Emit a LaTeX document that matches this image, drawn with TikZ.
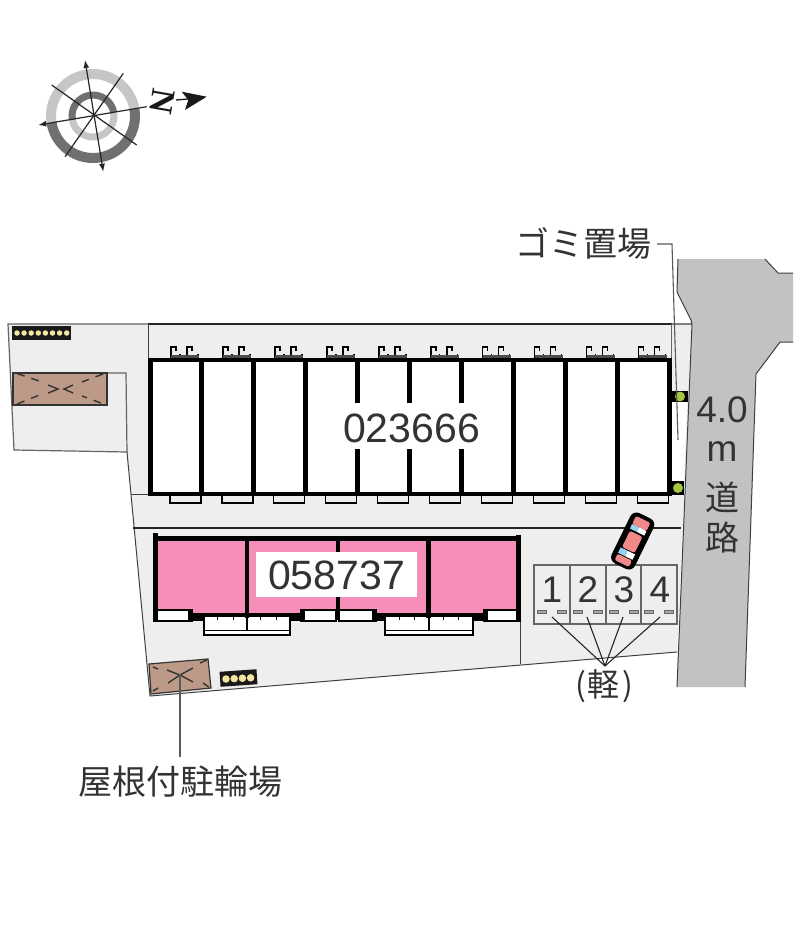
\documentclass[tikz,border=0pt]{standalone}
\usepackage{fontspec}
\setmainfont{Liberation Sans}
\newfontfamily\jpfont{Noto Sans CJK JP}
\newfontfamily\northfont{Liberation Serif}
\usetikzlibrary{arrows.meta}
\definecolor{ground}{HTML}{EEEEEE}
\definecolor{roadgray}{HTML}{C1C2C4}
\definecolor{pinkunit}{HTML}{F58FBA}
\definecolor{shelter}{HTML}{BD9A87}
\definecolor{ringlight}{HTML}{C6C6C6}
\definecolor{ringdark}{HTML}{707070}
\definecolor{rack}{HTML}{F2E6A0}
\definecolor{carred}{HTML}{F08A88}
\definecolor{carglass}{HTML}{96D3F2}
\definecolor{trashgreen}{HTML}{A4C63C}
\tikzset{
  x=1pt,y=-1pt,
  wall/.style={fill=black,draw=none},
  thinline/.style={draw=black!75,line width=1pt},
  bigtext/.style={font=\fontsize{41}{41}\selectfont,inner sep=0pt,text=black!80},
  spotnum/.style={font=\fontsize{37}{37}\selectfont,inner sep=0pt,text=black!80},
  jptext/.style={font=\jpfont\fontsize{34}{34}\selectfont,inner sep=0pt,text=black!80},
  leader/.style={draw=black!65,line width=1.1pt},
  compass/.style={draw=black!85,line width=1.2pt},
  shelterbox/.style={fill=shelter,draw=black!80,line width=1.2pt},
  sheltermark/.style={draw=black!80,line width=1.4pt},
  rackbox/.style={fill=black!90,draw=none},
  rackdot/.style={fill=rack,draw=none,circle,inner sep=0pt,minimum size=5.5pt},
}
\begin{document}
\begin{tikzpicture}
\useasboundingbox (0,0) rectangle (800,940);
\fill[white] (0,0) rectangle (800,940);

% ---- ground
\fill[ground] (8,324) -- (692,324) -- (677,652) -- (150,696) -- (127,452) -- (14,450) -- cycle;
\fill[white] (672,402) -- (687,402) -- (684,481) -- (672,481) -- cycle;
\draw[draw=black!60,line width=1.2pt] (148,324) -- (8,324) -- (14,450) -- (127,452) -- (126,373) -- (107,373);
\draw[thinline] (127,452) -- (150,696) -- (677,652);
\draw[draw=black!85,line width=1.3pt] (148,324) -- (672,324);
\draw[draw=black!50,line width=1.2pt] (672,324) -- (692,324);
\draw[thinline] (148,324) -- (148,360);
\draw[draw=black!60,line width=1pt] (671,324) -- (671,360);
\draw[thinline] (131,494) -- (148,494);
\draw[draw=black!85,line width=1.2pt] (133,528) -- (681,528);
\draw[thinline] (520,535) -- (520,664);

% ---- road
\fill[roadgray] (678,259) -- (765,259) -- (778,273) -- (793,273) -- (793,342) -- (780,342) -- (756,374) -- (745,687) -- (677,687) -- (692,324) -- (691,320) -- (677,292) -- cycle;
\draw[thinline] (678,259) -- (677,292) -- (691,320) -- (692,324) -- (677,687);
\draw[thinline] (793,342) -- (780,342) -- (756,374) -- (745,687);
\draw[thinline] (765,259) -- (778,273) -- (793,273);

% ---- upper building: ten units
\fill[white] (150,360) rectangle (670,494);
\foreach \i in {0,...,9}{
  \pgfmathsetmacro{\xw}{150+\i*51.95}
  \draw[draw=black,line width=1.1pt,fill=ground] (\xw+20,494) rectangle (\xw+51,503);
  \draw[black,line width=1.5pt] (\xw+21,358) -- (\xw+21,347) -- (\xw+26,347) -- (\xw+26,351);
  \draw[black,line width=1.5pt] (\xw+37,358) -- (\xw+37,347) -- (\xw+42,347) -- (\xw+42,351);
  \draw[black,line width=1.4pt] (\xw+30,358) -- (\xw+30,354);
  \draw[black,line width=1.4pt] (\xw+48,358) -- (\xw+48,354);
  \fill[black!70] (\xw+21,355) rectangle (\xw+49,358);
  \fill[wall] (\xw-2.5,360) rectangle (\xw+2.5,494);
}
\fill[wall] (667,358) rectangle (672,496);
\fill[wall] (147.5,358) rectangle (672,362);
\fill[wall] (147.5,491.5) rectangle (672,496);
\fill[white] (340,403) rectangle (485,449);
\node[bigtext] (upperlabel) at (411.5,428) {023666};

% ---- trash points
\fill[black] (672,391) rectangle (688,402);
\fill[trashgreen] (680,396.5) circle (5);
\fill[black] (672,481) rectangle (684,495);
\fill[trashgreen] (678,488) circle (5);

% ---- lower building
\fill[pinkunit] (156,539) rectangle (518,615);
\foreach \a/\b/\c/\d in {156/193/158/188,300/337/305/335,338/377/340/372,483/520/488/518}{
  \fill[wall] (\a,608.5) rectangle (\b,622);
  \fill[white] (\c,610.5) rectangle (\d,619.5);
}
\fill[wall] (190,613) rectangle (305,621);
\fill[wall] (372,613) rectangle (487,621);
\foreach \a/\b in {204/290,385/473}{
  \draw[draw=black,line width=1.2pt,fill=white] (\a,616) rectangle (\b,635);
  \draw[draw=black,line width=1pt] (\a,630) -- (\b,630);
  \pgfmathsetmacro{\m}{(\a+\b)/2}
  \draw[black,line width=1.2pt] (\m,616) -- (\m,630);
  \foreach \t in {0.16,0.34,0.66,0.84}{
    \pgfmathsetmacro{\p}{\a+(\b-\a)*\t}
    \draw[black,line width=1pt] (\p,616) -- (\p,620);
  }
}
\fill[wall] (153,533) rectangle (158,622);
\fill[wall] (516,535) rectangle (521,622);
\fill[wall] (153,536) rectangle (521,541);
\fill[wall] (245,539) rectangle (249,618);
\fill[wall] (335.5,539) rectangle (340,620);
\fill[wall] (426,539) rectangle (431,618);
\node[fill=white,minimum width=161pt,minimum height=45pt,inner sep=0pt] (lowerbox) at (336.5,574.5) {};
\node[bigtext] (lowerlabel) at (336.5,575) {058737};

% ---- bicycle shelters and racks
\node[rackbox,minimum width=59pt,minimum height=14pt,inner sep=0pt] (racka) at (41.5,333) {};
\foreach \i in {0,...,7}{\node[rackdot] (rackadot\i) at (17+\i*7.1,333) {};}
\node[shelterbox,minimum width=94pt,minimum height=32pt,inner sep=0pt] (sheltera) at (60,389) {};
\draw[sheltermark,dash pattern=on 8pt off 7pt] (17,373.5) -- (42,382);
\draw[sheltermark,dash pattern=on 8pt off 7pt] (17,404) -- (42,394);
\draw[sheltermark,dash pattern=on 8pt off 7pt] (103,374) -- (82,382);
\draw[sheltermark,dash pattern=on 8pt off 7pt] (101,403) -- (82,396);
\draw[sheltermark] (48,385) -- (58,389) -- (48,393);
\draw[sheltermark] (73,385) -- (64,389) -- (73,393);

\draw[shelterbox] (149,664) -- (208,659) -- (211,688) -- (151,694) -- cycle;
\coordinate (shelterbtop) at (180,674);
\coordinate (shelterbfoot) at (180,757);
\draw[sheltermark] (167,670) -- (180,675) -- (193,668);
\draw[sheltermark] (168,683) -- (180,675) -- (193,682);
\draw[sheltermark] (153,667) -- (158,669);
\draw[sheltermark] (207,660) -- (200,663);
\draw[sheltermark] (153,691) -- (158,688);
\draw[sheltermark] (209,687) -- (203,683);
\draw[leader] (shelterbtop) -- (shelterbfoot);
\node[rackbox,minimum width=37pt,minimum height=15pt,inner sep=0pt,rotate=4] (rackb) at (238.5,678) {};
\foreach \i in {0,...,3}{\node[rackdot,minimum size=7.5pt] (rackbdot\i) at (226+\i*8.2,679-\i*0.4) {};}

% ---- parking
\draw[draw=black!60,line width=1.1pt,fill=ground] (534,565) rectangle (677,624);
\foreach \x in {570,606,641}{\draw[draw=black!60,line width=1.1pt] (\x,565) -- (\x,624);}
\foreach \x in {537.5,557,573,593,609,629,644,664}{
  \draw[draw=black!60,fill=black!35,line width=.7pt] (\x,610) rectangle +(9,3.5);
}
\node[spotnum] (spot1) at (552,590) {1};
\node[spotnum] (spot2) at (588,590) {2};
\node[spotnum] (spot3) at (624,590) {3};
\node[spotnum] (spot4) at (660,590) {4};
\coordinate (spotfoot1) at (552,617);
\coordinate (spotfoot2) at (587,617);
\coordinate (spotfoot3) at (623,617);
\coordinate (spotfoot4) at (660,617);
\coordinate (spotjoin) at (605,666);
\foreach \i in {1,...,4}{\draw[draw=black!85,line width=1.1pt] (spotfoot\i) -- (spotjoin);}
\node[jptext,font=\jpfont\fontsize{32}{32}\selectfont] (kei) at (604,686) {(\hspace{2pt}軽\hspace{2pt})};

% ---- car
\begin{scope}[shift={(632.7,541)},rotate=-26]
  \fill[black,rounded corners=7pt] (-13,-28) rectangle (13,28);
  \fill[carred,rounded corners=2pt] (-8,-24) rectangle (8,-15);
  \fill[carred,rounded corners=2pt] (-7,-8) rectangle (7,10);
  \fill[carred,rounded corners=2pt] (-8,18) rectangle (8,25);
  \fill[carglass] (-8,-15) rectangle (0,-10);
  \fill[white] (0,-15) rectangle (8,-10);
  \fill[carglass] (-8,11) rectangle (0,17);
  \fill[white] (0,11) rectangle (8,17);
\end{scope}

% ---- road text
\node[bigtext,font=\fontsize{37}{37}\selectfont] (roadwidth) at (722,410) {4.0};
\node[bigtext,font=\fontsize{37}{37}\selectfont] (roadunit) at (722,452) {m};
\node[jptext] (roada) at (722,497) {道};
\node[jptext] (roadb) at (722,538) {路};

% ---- callouts
\node[jptext] (trash) at (583,243) {ゴミ置場};
\coordinate (trasha) at (657,244);
\coordinate (trashb) at (672,244);
\coordinate (trashc) at (678,440);
\draw[leader] (trasha) -- (trashb) -- (trashc);
\node[jptext] (bikes) at (180,782) {屋根付駐輪場};

% ---- compass
\coordinate (cc) at (93,116);
\begin{scope}[shift={(cc)}]
  \draw[ringdark,line width=10pt] (-9.5:42) arc[start angle=-9.5,end angle=170.5,radius=42];
  \draw[ringlight,line width=10pt] (170.5:42) arc[start angle=170.5,end angle=350.5,radius=42];
  \draw[ringlight,line width=7pt] (-9.5:21) arc[start angle=-9.5,end angle=170.5,radius=21];
  \draw[ringdark,line width=7pt] (170.5:21) arc[start angle=170.5,end angle=350.5,radius=21];
\end{scope}
\coordinate (cn) at (85,60);
\coordinate (cs) at (103.3,171.7);
\coordinate (cw) at (38.3,125);
\coordinate (ce) at (146.7,106.7);
\coordinate (da) at (51.7,85);
\coordinate (db) at (136.7,145);
\coordinate (dc) at (123.3,73.3);
\coordinate (dd) at (65,156.7);
\draw[compass,{Latex[length=8pt,width=6pt]}-{Latex[length=8pt,width=6pt]}] (cn) -- (cs);
\draw[compass,{Latex[length=8pt,width=6pt]}-] (cw) -- (ce);
\draw[compass] (da) -- (db);
\draw[compass] (dc) -- (dd);
\node[font=\northfont\fontsize{34}{34}\selectfont\bfseries,inner sep=0pt,rotate=-100,text=black!90] (north) at (162,102) {N};
\fill[black!90] (181.7,91.7) -- (206.7,96.7) -- (185,110) -- (188.3,100) -- cycle;
\draw[black!90,line width=1.3pt] (176,100) -- (188,99);
\end{tikzpicture}
\end{document}
